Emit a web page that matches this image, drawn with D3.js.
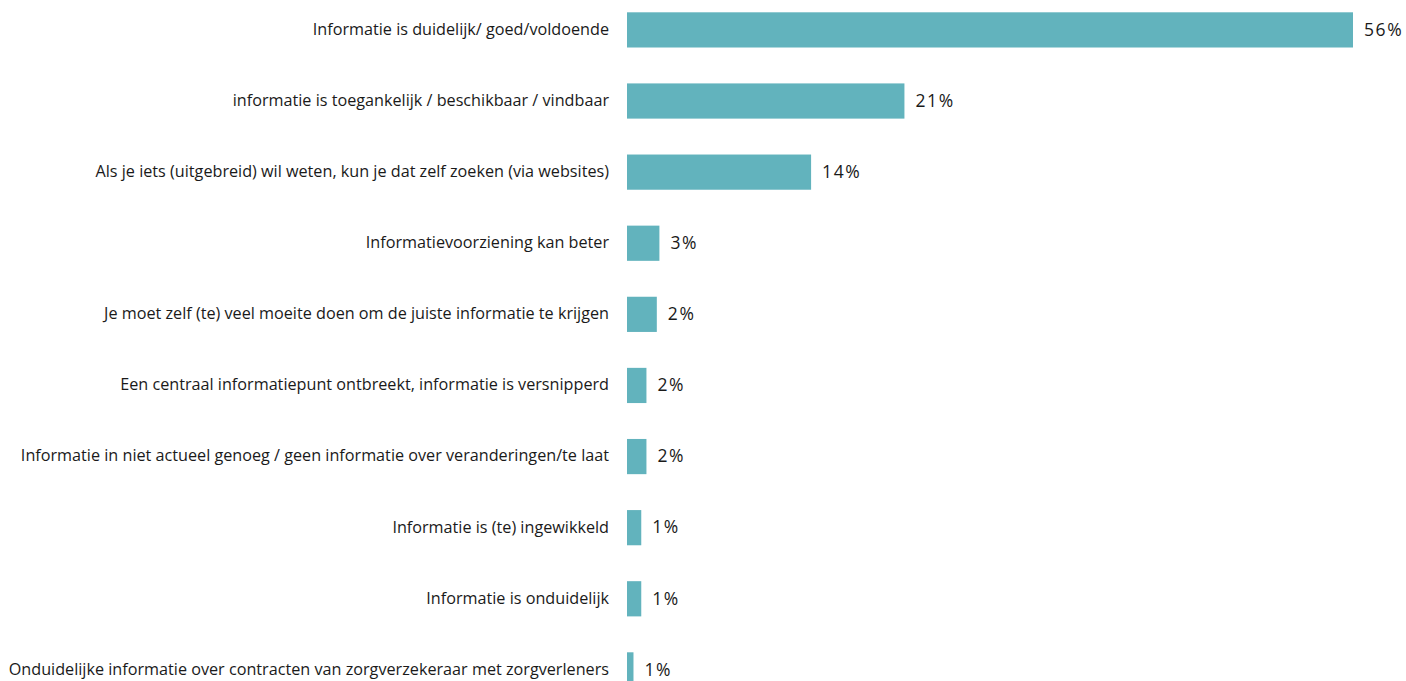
<!DOCTYPE html>
<html>
<head>
<meta charset="utf-8">
<script src="https://cdn.jsdelivr.net/npm/d3@7"></script>
<style>
  html, body { margin: 0; padding: 0; background: #ffffff; overflow: hidden; }
  svg { display: block; }
  text { font-family: "Open Sans", Lato, sans-serif; fill: #1a1a1a; font-variant-ligatures: none; }
</style>
</head>
<body>
<svg id="chart" width="1406" height="681"></svg>
<script>
// Answers, top to bottom
const categories = [
  "Informatie is duidelijk/ goed/voldoende",
  "informatie is toegankelijk / beschikbaar / vindbaar",
  "Als je iets (uitgebreid) wil weten, kun je dat zelf zoeken (via websites)",
  "Informatievoorziening kan beter",
  "Je moet zelf (te) veel moeite doen om de juiste informatie te krijgen",
  "Een centraal informatiepunt ontbreekt, informatie is versnipperd",
  "Informatie in niet actueel genoeg / geen informatie over veranderingen/te laat",
  "Informatie is (te) ingewikkeld",
  "Informatie is onduidelijk",
  "Onduidelijke informatie over contracten van zorgverzekeraar met zorgverleners"
];

// Share of respondents (%)
const values = [56, 21.4, 14.2, 2.5, 2.3, 1.5, 1.5, 1.1, 1.1, 0.5];

const rows = categories.map((c, i) => ({ category: c, value: values[i] }));

const svg = d3.select("#chart");

const x = d3.scaleLinear()
  .domain([0, 56])
  .range([627, 1353]);

const y = d3.scaleBand()
  .domain(categories)
  .range([-5.65, 705.45])
  .paddingInner(0.505)
  .paddingOuter(0.2525);

// Bars
svg.append("g")
  .selectAll("rect")
  .data(rows)
  .join("rect")
  .attr("x", x(0))
  .attr("y", d => y(d.category))
  .attr("width", d => x(d.value) - x(0))
  .attr("height", y.bandwidth())
  .attr("fill", "#62b3bd");

// Category labels, right-aligned next to the bars
svg.append("g")
  .selectAll("text")
  .data(rows)
  .join("text")
  .attr("x", x(0) - 18)
  .attr("y", d => y(d.category) + y.bandwidth() / 2)
  .attr("dy", "0.3em")
  .attr("text-anchor", "end")
  .style("font-size", "16.2px")
  .text(d => d.category);

// Value labels at the bar ends
svg.append("g")
  .selectAll("text")
  .data(rows)
  .join("text")
  .attr("x", d => x(d.value) + 11)
  .attr("y", d => y(d.category) + y.bandwidth() / 2)
  .attr("dy", "0.33em")
  .attr("text-anchor", "start")
  .style("font-size", "17.5px")
  .style("letter-spacing", "1.6px")
  .text(d => Math.round(d.value) + "%");
</script>
</body>
</html>
